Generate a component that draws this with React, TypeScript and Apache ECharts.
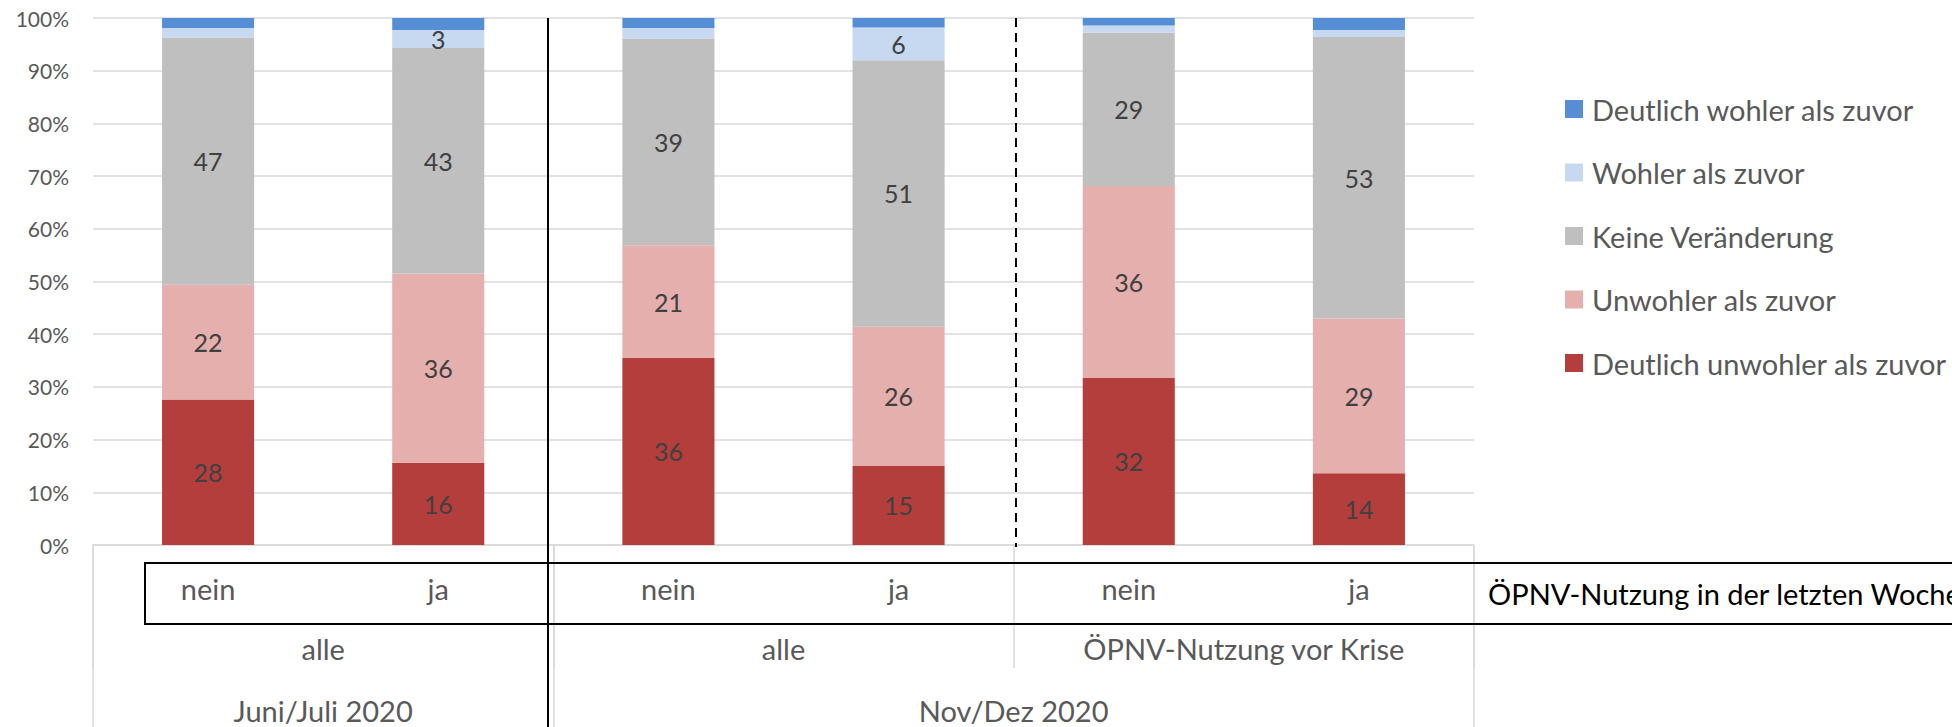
import React, { useEffect, useRef } from "react";
import * as echarts from "echarts";

// Bottom level of the category axis: ÖPNV-Nutzung in der letzten Woche
const usage = ["nein", "ja", "nein", "ja", "nein", "ja"];
// Middle level (each spans two bars)
const groups = ["alle", "alle", "ÖPNV-Nutzung vor Krise"];
// Top level and number of bars in each
const periods = ["Juni/Juli 2020", "Nov/Dez 2020"];
const periodSizes = [2, 4];
const rowTitle = "ÖPNV-Nutzung in der letzten Woche";

// Series (percent of respondents), bottom of the stack first
const deutlichUnwohler = [27.6, 15.6, 35.5, 15.0, 31.7, 13.6];
const unwohler = [21.8, 35.9, 21.4, 26.4, 36.4, 29.4];
const keineVeraenderung = [46.9, 42.8, 39.2, 50.6, 29.1, 53.4];
const wohler = [1.8, 3.4, 2.0, 6.2, 1.4, 1.3];
const deutlichWohler = [1.9, 2.3, 1.9, 1.8, 1.4, 2.3];

const seriesNames = [
  "Deutlich unwohler als zuvor",
  "Unwohler als zuvor",
  "Keine Veränderung",
  "Wohler als zuvor",
  "Deutlich wohler als zuvor",
];
const seriesData = [deutlichUnwohler, unwohler, keineVeraenderung, wohler, deutlichWohler];
const seriesColors = ["#B33E3C", "#E5AFAE", "#BFBFBF", "#C6D9F0", "#558ED5"];

const yTicks = { min: 0, max: 100, interval: 10 };

const FONT = "Lato, 'Open Sans', sans-serif";
const AXIS_GREY = "#D9D9D9";
const LABEL_GREY = "#595959";

export default function App() {
  const ref = useRef<HTMLDivElement | null>(null);

  useEffect(() => {
    if (!ref.current) return;
    const chart = echarts.init(ref.current, undefined, { renderer: "svg" });

    const categoryKeys = usage.map((u, i) => `${i}|${u}`);
    const groupKeys = groups.map((g, i) => `${i}|${g}`);
    const periodBounds: number[] = [0];
    periodSizes.forEach((s) => periodBounds.push(periodBounds[periodBounds.length - 1] + s));
    const periodCenters = periodSizes.map((s, i) => periodBounds[i] + s / 2);
    const total = periodBounds[periodBounds.length - 1];

    const option: any = {
      animation: false,
      textStyle: { fontFamily: FONT },
      grid: { left: 93, right: 478, top: 18, bottom: 182, containLabel: false },
      legend: {
        orient: "vertical",
        left: 1560,
        top: 89,
        itemWidth: 18,
        itemHeight: 18,
        itemGap: 33.5,
        icon: "rect",
        data: [...seriesNames].reverse(),
        textStyle: { fontSize: 29, lineHeight: 30, color: LABEL_GREY, fontFamily: FONT, padding: [0, 0, 0, 4] },
      },
      xAxis: [
        {
          type: "category",
          position: "bottom",
          data: categoryKeys,
          axisLine: { show: true, lineStyle: { color: AXIS_GREY, width: 1.5 } },
          axisTick: { show: false },
          axisLabel: {
            interval: 0,
            margin: 28,
            fontSize: 29,
            lineHeight: 30,
            color: LABEL_GREY,
            fontFamily: FONT,
            formatter: (v: string) => v.split("|")[1],
          },
          splitLine: { show: false },
        },
        {
          type: "category",
          position: "bottom",
          offset: 0,
          data: groupKeys,
          axisLine: { show: false },
          axisTick: { show: true, interval: 0, length: 123, lineStyle: { color: AXIS_GREY, width: 1.5 } },
          axisLabel: {
            interval: 0,
            margin: 88,
            fontSize: 29,
            lineHeight: 30,
            color: LABEL_GREY,
            fontFamily: FONT,
            formatter: (v: string) => v.split("|")[1],
          },
          splitLine: { show: false },
        },
        {
          type: "value",
          position: "bottom",
          offset: 0,
          min: 0,
          max: total,
          axisLine: { show: false },
          axisTick: {
            show: true,
            customValues: periodBounds,
            length: 182,
            lineStyle: { color: AXIS_GREY, width: 1.5 },
          },
          axisLabel: {
            customValues: periodCenters,
            margin: 150,
            fontSize: 29,
            lineHeight: 30,
            color: LABEL_GREY,
            fontFamily: FONT,
            formatter: (v: number) => {
              const idx = periodCenters.indexOf(v);
              return idx >= 0 ? periods[idx] : "";
            },
          },
          splitLine: { show: false },
        },
      ],
      yAxis: {
        type: "value",
        min: yTicks.min,
        max: yTicks.max,
        interval: yTicks.interval,
        axisLine: { show: false },
        axisTick: { show: false },
        axisLabel: {
          formatter: "{value}%",
          margin: 24,
          fontSize: 21,
          color: LABEL_GREY,
          fontFamily: FONT,
        },
        splitLine: { lineStyle: { color: AXIS_GREY, width: 1.5 } },
      },
      series: seriesNames.map((name, i) => ({
        name,
        type: "bar",
        stack: "total",
        xAxisIndex: 0,
        barWidth: "40%",
        data: seriesData[i],
        itemStyle: { color: seriesColors[i] },
        label: {
          show: true,
          position: "inside",
          color: "#404040",
          fontSize: 25,
          fontFamily: FONT,
          formatter: (p: any) => (p.value >= 3 ? String(Math.round(p.value)) : ""),
        },
      })),
      graphic: [
        {
          type: "line",
          shape: { x1: 548, y1: 18, x2: 548, y2: 727 },
          style: { stroke: "#000", lineWidth: 2 },
          z: 100,
        },
        {
          type: "line",
          shape: { x1: 1016, y1: 18, x2: 1016, y2: 547 },
          style: { stroke: "#000", lineWidth: 2, lineDash: [9, 6] },
          z: 100,
        },
        {
          type: "rect",
          shape: { x: 145, y: 563, width: 1900, height: 61 },
          style: { stroke: "#000", lineWidth: 2, fill: "none" },
          z: 100,
        },
        {
          type: "text",
          x: 1488,
          y: 593,
          style: {
            text: rowTitle,
            fontSize: 29,
            fontFamily: FONT,
            fill: "#000",
            verticalAlign: "middle",
            align: "left",
          },
          z: 100,
        },
      ],
    };

    chart.setOption(option);
    return () => chart.dispose();
  }, []);

  return (
    <div
      ref={ref}
      style={{ position: "absolute", left: 0, top: 0, width: 1952, height: 727, background: "#fff" }}
    />
  );
}
